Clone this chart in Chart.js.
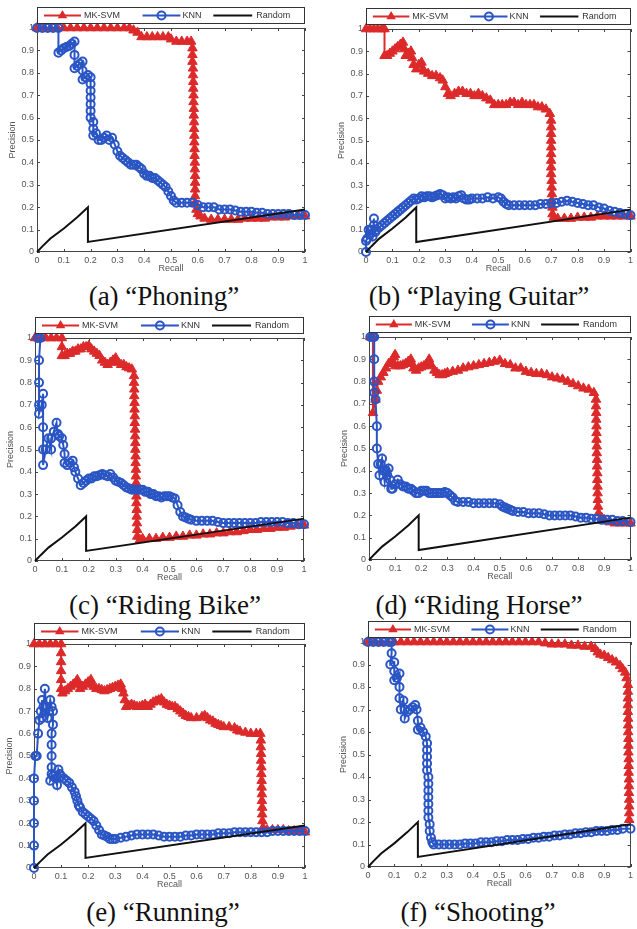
<!DOCTYPE html>
<html>
<head>
<meta charset="utf-8">
<script src="https://cdn.jsdelivr.net/npm/chart.js@4.4.1/dist/chart.umd.min.js"></script>
<style>
  body { margin: 0; background: #fff; }
  #page { position: relative; width: 637px; height: 929px; overflow: hidden; background: #fff; }
  .panel { position: absolute; }
  .caption {
    position: absolute; width: 300px; text-align: center; white-space: nowrap;
    font-family: "Liberation Serif", "DejaVu Serif", serif; font-size: 27px; line-height: 1; color: #111;
  }
</style>
</head>
<body>
<div id="page"></div>
<script>
// Data: [recall, precision]
const seriesNames = ["MK-SVM", "KNN", "Random"];
const tickValues = [0, 0.1, 0.2, 0.3, 0.4, 0.5, 0.6, 0.7, 0.8, 0.9, 1];
const tickLabels = ["0", "0.1", "0.2", "0.3", "0.4", "0.5", "0.6", "0.7", "0.8", "0.9", "1"];
const captions = ["(a) “Phoning”", "(b) “Playing Guitar”", "(c) “Riding Bike”",
  "(d) “Riding Horse”", "(e) “Running”", "(f) “Shooting”"];

const randomCurve = [[0,0],[0.02,0.025],[0.05,0.06],[0.1,0.105],[0.15,0.155],[0.19,0.2],[0.19,0.045],[1,0.19]];

const phoningSvm = [[0,1],[0.025,1],[0.05,1],[0.075,1],[0.1,1],[0.125,1],[0.15,1],[0.175,1],[0.2,1],[0.225,1],[0.25,1],[0.275,1],[0.3,1],[0.325,1],[0.345,1],[0.36,0.99],[0.375,0.98],[0.39,0.96],[0.41,0.96],[0.43,0.96],[0.45,0.96],[0.47,0.96],[0.49,0.96],[0.5,0.95],[0.52,0.94],[0.54,0.94],[0.56,0.94],[0.575,0.94],
  [0.58,0.91],[0.58,0.88],[0.58,0.85],[0.582,0.82],[0.582,0.79],[0.583,0.76],[0.583,0.73],[0.584,0.7],[0.584,0.67],[0.585,0.64],[0.585,0.61],[0.586,0.58],[0.586,0.55],[0.587,0.52],[0.587,0.49],[0.588,0.46],[0.588,0.43],[0.589,0.4],[0.589,0.37],[0.59,0.34],[0.59,0.31],[0.59,0.28],[0.59,0.25],[0.59,0.22],[0.595,0.19],[0.6,0.17],
  [0.61,0.16],[0.625,0.15],[0.65,0.145],[0.675,0.145],[0.7,0.145],[0.725,0.145],[0.75,0.145],[0.775,0.15],[0.8,0.15],[0.825,0.15],[0.85,0.15],[0.875,0.155],[0.9,0.155],[0.925,0.155],[0.95,0.16],[0.975,0.16],[1,0.16]];
const phoningKnn = [[0,1],[0.02,1],[0.04,1],[0.06,1],[0.08,1],[0.08,0.89],[0.09,0.9],[0.1,0.91],[0.11,0.915],[0.12,0.92],[0.13,0.93],[0.14,0.94],[0.14,0.88],[0.14,0.82],[0.15,0.83],[0.16,0.84],[0.17,0.85],[0.17,0.81],[0.17,0.77],[0.18,0.78],[0.19,0.79],[0.2,0.78],[0.2,0.75],[0.2,0.72],[0.2,0.69],[0.2,0.66],[0.2,0.63],[0.2,0.6],[0.21,0.58],[0.21,0.55],[0.21,0.52],[0.22,0.53],[0.23,0.5],[0.24,0.5],[0.25,0.51],[0.26,0.52],[0.27,0.5],[0.28,0.51],[0.29,0.48],[0.3,0.45],[0.31,0.43],[0.32,0.42],[0.33,0.41],[0.34,0.4],[0.35,0.39],[0.36,0.39],[0.37,0.39],[0.38,0.38],[0.39,0.37],[0.4,0.35],[0.41,0.34],[0.42,0.34],[0.43,0.33],[0.44,0.33],[0.45,0.32],[0.46,0.31],[0.47,0.3],[0.48,0.29],[0.49,0.27],[0.5,0.25],[0.51,0.23],[0.52,0.22],[0.54,0.22],[0.56,0.22],[0.58,0.22],[0.6,0.21],[0.62,0.2],[0.64,0.2],[0.66,0.2],[0.68,0.19],[0.7,0.19],[0.72,0.19],[0.74,0.185],[0.76,0.18],[0.78,0.18],[0.8,0.18],[0.82,0.175],[0.84,0.175],[0.86,0.17],[0.88,0.17],[0.9,0.17],[0.92,0.17],[0.94,0.17],[0.96,0.165],[0.98,0.165],[1,0.165]];

const guitarSvm = [[0,1],[0.015,1],[0.03,1],[0.045,1],[0.06,1],[0.07,1],[0.07,0.88],[0.08,0.88],[0.09,0.89],[0.1,0.9],[0.11,0.91],[0.12,0.92],[0.13,0.93],[0.14,0.94],[0.145,0.91],[0.15,0.88],[0.16,0.89],[0.17,0.9],[0.175,0.87],[0.18,0.84],[0.19,0.82],[0.2,0.84],[0.21,0.85],[0.215,0.82],[0.22,0.81],[0.235,0.8],[0.25,0.79],[0.265,0.79],[0.28,0.78],[0.29,0.77],[0.3,0.74],[0.31,0.71],[0.32,0.7],[0.335,0.71],[0.35,0.72],[0.365,0.72],[0.38,0.71],[0.395,0.71],[0.41,0.7],[0.425,0.71],[0.44,0.7],[0.455,0.69],[0.47,0.68],[0.485,0.66],[0.5,0.66],[0.515,0.66],[0.53,0.66],[0.545,0.67],[0.56,0.67],[0.575,0.66],[0.59,0.67],[0.605,0.66],[0.62,0.66],[0.635,0.66],[0.65,0.65],[0.665,0.65],[0.68,0.64],[0.695,0.62],
  [0.7,0.59],[0.7,0.56],[0.7,0.53],[0.7,0.5],[0.7,0.47],[0.7,0.44],[0.7,0.41],[0.7,0.38],[0.7,0.35],[0.702,0.32],[0.702,0.29],[0.703,0.26],[0.703,0.23],[0.705,0.2],[0.705,0.17],
  [0.71,0.155],[0.725,0.15],[0.75,0.15],[0.775,0.15],[0.8,0.155],[0.825,0.155],[0.85,0.155],[0.875,0.16],[0.9,0.16],[0.925,0.16],[0.95,0.16],[0.975,0.16],[1,0.16]];
const guitarKnn = [[0,0],[0,0.05],[0.005,0.06],[0.01,0.1],[0.015,0.08],[0.02,0.1],[0.025,0.07],[0.03,0.15],[0.03,0.12],[0.035,0.09],[0.04,0.1],[0.05,0.11],[0.06,0.12],[0.07,0.13],[0.08,0.14],[0.09,0.15],[0.1,0.16],[0.11,0.17],[0.12,0.18],[0.13,0.19],[0.14,0.2],[0.15,0.21],[0.16,0.22],[0.17,0.23],[0.18,0.24],[0.19,0.235],[0.2,0.24],[0.21,0.25],[0.22,0.245],[0.23,0.25],[0.24,0.25],[0.25,0.245],[0.26,0.25],[0.27,0.255],[0.28,0.26],[0.29,0.255],[0.3,0.24],[0.31,0.245],[0.32,0.24],[0.33,0.245],[0.34,0.24],[0.35,0.25],[0.36,0.255],[0.37,0.24],[0.38,0.235],[0.39,0.235],[0.4,0.24],[0.42,0.24],[0.44,0.24],[0.46,0.245],[0.48,0.24],[0.5,0.245],[0.51,0.24],[0.52,0.225],[0.53,0.215],[0.54,0.21],[0.56,0.21],[0.58,0.21],[0.6,0.21],[0.62,0.21],[0.64,0.21],[0.66,0.215],[0.68,0.215],[0.7,0.22],[0.72,0.22],[0.74,0.225],[0.76,0.23],[0.78,0.225],[0.8,0.22],[0.82,0.215],[0.84,0.21],[0.86,0.21],[0.88,0.2],[0.9,0.195],[0.92,0.185],[0.94,0.18],[0.96,0.175],[0.98,0.17],[1,0.165]];

const bikeSvm = [[0,1],[0.02,1],[0.04,1],[0.06,1],[0.08,1],[0.1,1],[0.1,0.96],[0.1,0.92],[0.11,0.92],[0.12,0.93],[0.13,0.93],[0.14,0.94],[0.15,0.94],[0.16,0.95],[0.17,0.95],[0.18,0.96],[0.19,0.96],[0.2,0.965],[0.21,0.95],[0.22,0.94],[0.23,0.93],[0.24,0.92],[0.25,0.9],[0.26,0.89],[0.27,0.88],[0.28,0.89],[0.29,0.9],[0.3,0.91],[0.31,0.89],[0.32,0.88],[0.33,0.88],[0.34,0.87],[0.35,0.865],[0.36,0.86],
  [0.368,0.83],[0.368,0.8],[0.369,0.77],[0.369,0.74],[0.37,0.71],[0.37,0.68],[0.371,0.65],[0.371,0.62],[0.372,0.59],[0.372,0.56],[0.373,0.53],[0.373,0.5],[0.374,0.47],[0.374,0.44],[0.375,0.41],[0.375,0.38],[0.376,0.35],[0.376,0.32],[0.377,0.29],[0.377,0.26],[0.378,0.23],[0.378,0.2],[0.379,0.17],[0.38,0.14],[0.38,0.11],
  [0.39,0.095],[0.4,0.1],[0.425,0.1],[0.45,0.1],[0.475,0.105],[0.5,0.105],[0.525,0.11],[0.55,0.11],[0.575,0.115],[0.6,0.115],[0.625,0.12],[0.65,0.12],[0.675,0.125],[0.7,0.125],[0.725,0.13],[0.75,0.13],[0.775,0.135],[0.8,0.14],[0.825,0.14],[0.85,0.145],[0.875,0.145],[0.9,0.15],[0.925,0.15],[0.95,0.155],[0.975,0.16],[1,0.16]];
const bikeKnn = [[0.01,1],[0.02,1],[0.015,0.9],[0.015,0.8],[0.015,0.7],[0.015,0.66],[0.025,0.7],[0.03,0.75],[0.03,0.6],[0.03,0.5],[0.03,0.43],[0.04,0.5],[0.05,0.55],[0.06,0.5],[0.06,0.55],[0.07,0.58],[0.08,0.62],[0.085,0.57],[0.09,0.56],[0.1,0.55],[0.105,0.52],[0.11,0.48],[0.11,0.44],[0.12,0.43],[0.13,0.44],[0.14,0.45],[0.145,0.42],[0.15,0.4],[0.16,0.37],[0.17,0.34],[0.18,0.35],[0.19,0.36],[0.2,0.37],[0.21,0.37],[0.22,0.38],[0.23,0.38],[0.24,0.385],[0.25,0.39],[0.26,0.385],[0.27,0.38],[0.28,0.39],[0.29,0.375],[0.3,0.36],[0.31,0.355],[0.32,0.35],[0.33,0.34],[0.34,0.33],[0.35,0.325],[0.36,0.32],[0.37,0.32],[0.38,0.32],[0.39,0.32],[0.4,0.32],[0.41,0.31],[0.42,0.31],[0.43,0.3],[0.44,0.3],[0.45,0.29],[0.46,0.29],[0.47,0.285],[0.48,0.29],[0.49,0.29],[0.5,0.29],[0.51,0.285],[0.52,0.28],[0.53,0.25],[0.54,0.22],[0.55,0.2],[0.56,0.195],[0.57,0.19],[0.58,0.185],[0.6,0.18],[0.62,0.18],[0.64,0.18],[0.66,0.18],[0.68,0.175],[0.7,0.17],[0.72,0.17],[0.74,0.17],[0.76,0.17],[0.78,0.17],[0.8,0.17],[0.82,0.17],[0.84,0.175],[0.86,0.175],[0.88,0.175],[0.9,0.175],[0.92,0.175],[0.94,0.17],[0.96,0.17],[0.98,0.165],[1,0.165]];

const horseSvm = [[0.005,1],[0.015,1],[0.015,0.66],[0.025,0.72],[0.03,0.76],[0.035,0.8],[0.045,0.82],[0.055,0.84],[0.065,0.86],[0.075,0.88],[0.085,0.89],[0.095,0.91],[0.1,0.92],[0.1,0.87],[0.11,0.87],[0.12,0.87],[0.13,0.875],[0.14,0.88],[0.15,0.89],[0.16,0.9],[0.165,0.88],[0.17,0.86],[0.18,0.85],[0.19,0.86],[0.2,0.865],[0.21,0.87],[0.22,0.88],[0.23,0.9],[0.24,0.87],[0.25,0.85],[0.26,0.84],[0.27,0.83],[0.28,0.83],[0.29,0.835],[0.3,0.84],[0.32,0.845],[0.34,0.85],[0.36,0.86],[0.38,0.865],[0.4,0.87],[0.42,0.875],[0.44,0.88],[0.46,0.885],[0.48,0.89],[0.5,0.895],[0.52,0.88],[0.54,0.875],[0.56,0.86],[0.58,0.86],[0.6,0.845],[0.62,0.84],[0.64,0.835],[0.66,0.835],[0.68,0.83],[0.7,0.82],[0.72,0.815],[0.74,0.81],[0.76,0.8],[0.78,0.79],[0.8,0.78],[0.82,0.77],[0.84,0.765],[0.86,0.75],
  [0.868,0.72],[0.868,0.69],[0.869,0.66],[0.869,0.63],[0.87,0.6],[0.87,0.57],[0.87,0.54],[0.871,0.51],[0.871,0.48],[0.872,0.45],[0.872,0.42],[0.873,0.39],[0.873,0.36],[0.874,0.33],[0.874,0.3],[0.875,0.27],[0.876,0.24],[0.878,0.21],
  [0.89,0.19],[0.9,0.18],[0.92,0.17],[0.94,0.165],[0.96,0.165],[0.98,0.165],[1,0.165]];
const horseKnn = [[0.005,1],[0.015,1],[0.02,1],[0.02,0.9],[0.02,0.8],[0.02,0.75],[0.025,0.72],[0.03,0.6],[0.03,0.5],[0.035,0.43],[0.04,0.38],[0.045,0.43],[0.05,0.455],[0.055,0.4],[0.06,0.35],[0.065,0.4],[0.07,0.38],[0.075,0.41],[0.08,0.36],[0.085,0.32],[0.09,0.32],[0.1,0.34],[0.11,0.36],[0.12,0.34],[0.13,0.33],[0.14,0.33],[0.15,0.32],[0.16,0.32],[0.17,0.31],[0.18,0.3],[0.19,0.3],[0.2,0.31],[0.21,0.31],[0.22,0.31],[0.23,0.3],[0.24,0.3],[0.25,0.3],[0.26,0.3],[0.27,0.3],[0.28,0.3],[0.29,0.305],[0.3,0.3],[0.31,0.29],[0.32,0.28],[0.33,0.265],[0.34,0.26],[0.36,0.26],[0.38,0.26],[0.4,0.255],[0.42,0.255],[0.44,0.255],[0.46,0.255],[0.48,0.255],[0.5,0.25],[0.51,0.24],[0.52,0.235],[0.53,0.23],[0.54,0.225],[0.55,0.22],[0.57,0.215],[0.59,0.215],[0.61,0.21],[0.63,0.21],[0.65,0.21],[0.67,0.205],[0.69,0.2],[0.71,0.2],[0.73,0.2],[0.75,0.2],[0.77,0.2],[0.79,0.195],[0.81,0.19],[0.83,0.19],[0.85,0.185],[0.87,0.185],[0.89,0.18],[0.91,0.18],[0.93,0.18],[0.95,0.175],[0.97,0.175],[1,0.17]];

const runningSvm = [[0,1],[0.02,1],[0.04,1],[0.06,1],[0.08,1],[0.1,1],[0.1,0.96],[0.1,0.92],[0.1,0.88],[0.1,0.84],[0.1,0.8],[0.105,0.78],[0.115,0.79],[0.125,0.8],[0.135,0.81],[0.145,0.82],[0.155,0.83],[0.16,0.84],[0.165,0.82],[0.17,0.8],[0.18,0.81],[0.19,0.82],[0.2,0.83],[0.21,0.84],[0.215,0.82],[0.22,0.81],[0.23,0.8],[0.24,0.8],[0.25,0.795],[0.26,0.79],[0.27,0.795],[0.28,0.8],[0.29,0.805],[0.3,0.81],[0.31,0.815],[0.32,0.82],[0.325,0.8],[0.33,0.78],[0.335,0.75],[0.34,0.72],[0.35,0.725],[0.36,0.73],[0.37,0.725],[0.38,0.72],[0.39,0.72],[0.4,0.725],[0.41,0.73],[0.42,0.72],[0.43,0.73],[0.44,0.74],[0.45,0.745],[0.46,0.75],[0.47,0.755],[0.48,0.74],[0.49,0.73],[0.5,0.725],[0.51,0.72],[0.52,0.72],[0.53,0.71],[0.54,0.7],[0.55,0.69],[0.56,0.68],[0.57,0.675],[0.58,0.67],[0.6,0.67],[0.62,0.675],[0.63,0.68],[0.64,0.67],[0.65,0.66],[0.66,0.655],[0.67,0.645],[0.68,0.64],[0.69,0.635],[0.7,0.63],[0.72,0.63],[0.74,0.625],[0.75,0.615],[0.76,0.61],[0.78,0.605],[0.8,0.6],[0.82,0.6],[0.835,0.6],
  [0.837,0.57],[0.837,0.54],[0.838,0.51],[0.838,0.48],[0.839,0.45],[0.839,0.42],[0.84,0.39],[0.84,0.36],[0.841,0.33],[0.841,0.3],[0.842,0.27],[0.842,0.24],[0.843,0.21],[0.845,0.18],
  [0.86,0.17],[0.88,0.17],[0.9,0.17],[0.92,0.17],[0.94,0.165],[0.96,0.165],[0.98,0.165],[1,0.16]];
const runningKnn = [[0,0],[0,0.1],[0,0.2],[0,0.3],[0,0.4],[0.005,0.5],[0.01,0.5],[0.015,0.6],[0.02,0.66],[0.025,0.7],[0.03,0.75],[0.03,0.67],[0.035,0.72],[0.04,0.8],[0.045,0.72],[0.05,0.67],[0.055,0.7],[0.06,0.75],[0.065,0.72],[0.07,0.7],[0.07,0.64],[0.065,0.6],[0.065,0.55],[0.065,0.5],[0.065,0.45],[0.065,0.42],[0.06,0.39],[0.07,0.41],[0.08,0.4],[0.085,0.37],[0.09,0.44],[0.095,0.42],[0.1,0.41],[0.11,0.4],[0.12,0.39],[0.13,0.38],[0.14,0.36],[0.15,0.34],[0.155,0.32],[0.16,0.3],[0.165,0.28],[0.17,0.27],[0.18,0.25],[0.19,0.24],[0.2,0.23],[0.21,0.22],[0.22,0.21],[0.23,0.19],[0.24,0.17],[0.25,0.15],[0.26,0.145],[0.27,0.14],[0.28,0.13],[0.29,0.13],[0.3,0.13],[0.32,0.135],[0.34,0.14],[0.36,0.145],[0.38,0.15],[0.4,0.15],[0.42,0.15],[0.44,0.15],[0.46,0.145],[0.48,0.14],[0.5,0.14],[0.52,0.14],[0.54,0.14],[0.56,0.145],[0.58,0.145],[0.6,0.15],[0.62,0.15],[0.64,0.15],[0.66,0.15],[0.68,0.155],[0.7,0.155],[0.72,0.155],[0.74,0.16],[0.76,0.16],[0.78,0.16],[0.8,0.16],[0.82,0.16],[0.84,0.16],[0.86,0.16],[0.88,0.165],[0.9,0.165],[0.92,0.165],[0.94,0.165],[0.96,0.165],[0.98,0.165],[1,0.165]];

const shootingSvm = [[0,1],[0.025,1],[0.05,1],[0.075,1],[0.1,1],[0.125,1],[0.15,1],[0.175,1],[0.2,1],[0.225,1],[0.25,1],[0.275,1],[0.3,1],[0.325,1],[0.35,1],[0.375,1],[0.4,1],[0.425,1],[0.45,1],[0.475,1],[0.5,1],[0.525,1],[0.55,1],[0.575,1],[0.6,1],[0.625,1],[0.65,1],[0.675,0.995],[0.7,0.99],[0.725,0.99],[0.75,0.99],[0.775,0.985],[0.8,0.985],[0.825,0.98],[0.85,0.98],[0.865,0.97],[0.875,0.955],[0.885,0.945],[0.9,0.94],[0.915,0.93],[0.93,0.92],[0.945,0.91],[0.96,0.895],[0.97,0.88],[0.98,0.865],[0.985,0.84],
  [0.99,0.81],[0.99,0.78],[0.99,0.75],[0.99,0.72],[0.99,0.69],[0.991,0.66],[0.991,0.63],[0.991,0.6],[0.992,0.57],[0.992,0.54],[0.992,0.51],[0.993,0.48],[0.993,0.45],[0.993,0.42],[0.994,0.39],[0.994,0.36],[0.994,0.33],[0.995,0.3],[0.995,0.27],[0.995,0.24],[0.995,0.21]];
const shootingKnn = [[0,1],[0.02,1],[0.04,1],[0.06,1],[0.08,1],[0.09,1],[0.09,0.95],[0.085,0.9],[0.1,0.91],[0.1,0.87],[0.1,0.83],[0.11,0.84],[0.12,0.86],[0.12,0.8],[0.12,0.75],[0.125,0.7],[0.135,0.74],[0.14,0.7],[0.14,0.66],[0.15,0.69],[0.16,0.7],[0.17,0.71],[0.18,0.72],[0.185,0.7],[0.19,0.65],[0.19,0.61],[0.2,0.62],[0.21,0.6],[0.22,0.58],[0.225,0.55],[0.225,0.52],[0.225,0.49],[0.225,0.46],[0.225,0.43],[0.23,0.4],[0.23,0.37],[0.23,0.34],[0.23,0.31],[0.23,0.28],[0.23,0.25],[0.23,0.22],[0.235,0.19],[0.235,0.16],[0.24,0.13],[0.245,0.11],[0.25,0.1],[0.27,0.1],[0.29,0.1],[0.31,0.1],[0.33,0.1],[0.35,0.1],[0.37,0.105],[0.39,0.105],[0.41,0.105],[0.43,0.11],[0.45,0.11],[0.47,0.11],[0.49,0.115],[0.51,0.115],[0.53,0.12],[0.55,0.12],[0.57,0.12],[0.59,0.125],[0.61,0.125],[0.63,0.13],[0.65,0.13],[0.67,0.135],[0.69,0.135],[0.71,0.14],[0.73,0.14],[0.75,0.145],[0.77,0.145],[0.79,0.15],[0.81,0.15],[0.83,0.155],[0.85,0.155],[0.87,0.16],[0.89,0.16],[0.91,0.16],[0.93,0.165],[0.95,0.165],[0.97,0.17],[1,0.17]];

// Posisi tiap panel: area plot [kiri, kanan, atas, bawah], tepi kanan kanvas, posisi caption
const panels = [
  { svm: phoningSvm, knn: phoningKnn, area: [37, 305, 28, 252], edge: 318, capX: 164, capY: 283 },
  { svm: guitarSvm, knn: guitarKnn, area: [366, 635, 29, 252], edge: 637, capX: 479, capY: 283 },
  { svm: bikeSvm, knn: bikeKnn, area: [35, 304, 338, 561], edge: 318, capX: 165, capY: 592 },
  { svm: horseSvm, knn: horseKnn, area: [369, 636, 337, 560], edge: 637, capX: 479, capY: 592 },
  { svm: runningSvm, knn: runningKnn, area: [34, 305, 644, 868], edge: 318, capX: 163, capY: 899 },
  { svm: shootingSvm, knn: shootingKnn, area: [368, 636, 642, 867], edge: 637, capX: 478, capY: 899 },
];

const RED = "#dc2a2a";
const BLUE = "#2a55c4";
const AXIS_FONT = { family: "'Liberation Sans', Arial, sans-serif", size: 9 };

function toPoints(pairs) {
  return pairs.map((p) => ({ x: p[0], y: p[1] }));
}

//! Frame + tick ke dalam (gaya MATLAB)
const framePlugin = {
  id: "frame",
  beforeDatasetsDraw(chart) {
    const { ctx, chartArea: a, scales } = chart;
    ctx.save();
    ctx.strokeStyle = "#444";
    ctx.lineWidth = 1;
    ctx.strokeRect(Math.round(a.left) + 0.5, Math.round(a.top) + 0.5, Math.round(a.width) - 1, Math.round(a.height) - 1);
    ctx.beginPath();
    scales.x.ticks.forEach((t) => {
      const px = Math.round(scales.x.getPixelForValue(t.value)) + 0.5;
      ctx.moveTo(px, a.bottom); ctx.lineTo(px, a.bottom - 3);
      ctx.moveTo(px, a.top); ctx.lineTo(px, a.top + 3);
    });
    scales.y.ticks.forEach((t) => {
      const py = Math.round(scales.y.getPixelForValue(t.value)) + 0.5;
      ctx.moveTo(a.left, py); ctx.lineTo(a.left + 3, py);
      ctx.moveTo(a.right, py); ctx.lineTo(a.right - 3, py);
    });
    ctx.stroke();
    ctx.restore();
  },
};

//! Legend kotak di atas plot
const legendPlugin = {
  id: "boxLegend",
  afterDraw(chart) {
    const { ctx, chartArea: a } = chart;
    const top = Math.round(a.top) - 21;
    const h = 17;
    const w = a.width;
    const cy = top + h / 2;
    const slots = [[0.026, 0.164, 0.175], [0.394, 0.535, 0.543], [0.658, 0.803, 0.818]];
    ctx.save();
    ctx.fillStyle = "#fff";
    ctx.fillRect(a.left, top, w, h);
    ctx.strokeStyle = "#333";
    ctx.lineWidth = 1;
    ctx.strokeRect(Math.round(a.left) + 0.5, top + 0.5, Math.round(w) - 1, h - 1);
    chart.data.datasets.forEach((ds, i) => {
      const [x0, x1, tx] = slots[i];
      const mx = a.left + ((x0 + x1) / 2) * w;
      ctx.strokeStyle = ds.borderColor;
      ctx.lineWidth = 2;
      ctx.beginPath();
      ctx.moveTo(a.left + x0 * w, cy);
      ctx.lineTo(a.left + x1 * w, cy);
      ctx.stroke();
      if (ds.pointStyle === "triangle") {
        const r = ds.pointRadius;
        ctx.fillStyle = ds.borderColor;
        ctx.beginPath();
        ctx.moveTo(mx, cy - r);
        ctx.lineTo(mx + r * 0.866, cy + r * 0.5);
        ctx.lineTo(mx - r * 0.866, cy + r * 0.5);
        ctx.closePath();
        ctx.fill();
      } else if (ds.pointStyle === "circle" && ds.pointRadius > 0) {
        ctx.lineWidth = ds.pointBorderWidth;
        ctx.beginPath();
        ctx.arc(mx, cy, ds.pointRadius, 0, Math.PI * 2);
        ctx.stroke();
      }
      ctx.fillStyle = "#333";
      ctx.font = "9px 'Liberation Sans', Arial, sans-serif";
      ctx.textBaseline = "middle";
      ctx.fillText(ds.label, a.left + tx * w, cy + 0.5);
    });
    ctx.restore();
  },
};

function makePanel(p, idx) {
  const axisW = 34;
  const legendH = 22;
  const xAxisH = 26;
  const [L, R, T, B] = p.area;
  const left = L - axisW;
  const top = T - legendH;
  const w = p.edge - left;
  const h = legendH + (B - T) + xAxisH;

  const div = document.createElement("div");
  div.className = "panel";
  div.style.left = left + "px";
  div.style.top = top + "px";
  const canvas = document.createElement("canvas");
  canvas.width = w;
  canvas.height = h;
  canvas.style.width = w + "px";
  canvas.style.height = h + "px";
  div.appendChild(canvas);
  document.getElementById("page").appendChild(div);

  const cap = document.createElement("div");
  cap.className = "caption";
  cap.textContent = captions[idx];
  cap.style.left = p.capX - 150 + "px";
  cap.style.top = p.capY + "px";
  document.getElementById("page").appendChild(cap);

  new Chart(canvas.getContext("2d"), {
    type: "scatter",
    data: {
      datasets: [
        {
          label: seriesNames[0],
          data: toPoints(p.svm),
          showLine: true,
          borderColor: RED,
          backgroundColor: RED,
          borderWidth: 2,
          pointStyle: "triangle",
          pointRadius: 5.5,
          pointBorderWidth: 1,
          pointBackgroundColor: RED,
          pointBorderColor: RED,
          order: 3,
          clip: false,
        },
        {
          label: seriesNames[1],
          data: toPoints(p.knn),
          showLine: true,
          borderColor: BLUE,
          backgroundColor: BLUE,
          borderWidth: 2,
          pointStyle: "circle",
          pointRadius: 4,
          pointBorderWidth: 2,
          pointBackgroundColor: "rgba(0,0,0,0)",
          pointBorderColor: BLUE,
          order: 2,
          clip: false,
        },
        {
          label: seriesNames[2],
          data: toPoints(randomCurve),
          showLine: true,
          borderColor: "#111",
          backgroundColor: "#111",
          borderWidth: 2,
          pointRadius: 0,
          order: 1,
          clip: false,
        },
      ],
    },
    options: {
      responsive: false,
      animation: false,
      events: [],
      layout: { padding: { top: legendH, right: p.edge - R, left: 0, bottom: 0 } },
      elements: { line: { tension: 0 } },
      plugins: { legend: { display: false }, tooltip: { enabled: false } },
      scales: {
        x: {
          type: "linear",
          min: 0,
          max: 1,
          grid: { display: false, drawTicks: false },
          border: { display: false },
          afterBuildTicks: (s) => { s.ticks = tickValues.map((v) => ({ value: v })); },
          afterFit: (s) => { s.height = xAxisH; s.paddingLeft = 0; s.paddingRight = 0; },
          ticks: {
            autoSkip: false, maxRotation: 0, padding: 3, color: "#555", font: AXIS_FONT,
            callback: (v, i) => tickLabels[i],
          },
          title: { display: true, text: "Recall", color: "#555", font: AXIS_FONT, padding: { top: 0, bottom: 4 } },
        },
        y: {
          type: "linear",
          min: 0,
          max: 1,
          grid: { display: false, drawTicks: false },
          border: { display: false },
          afterBuildTicks: (s) => { s.ticks = tickValues.map((v) => ({ value: v })); },
          afterFit: (s) => { s.width = axisW; s.paddingTop = 0; s.paddingBottom = 0; },
          ticks: {
            autoSkip: false, padding: 3, color: "#555", font: AXIS_FONT,
            callback: (v, i) => tickLabels[i],
          },
          title: { display: true, text: "Precision", color: "#555", font: AXIS_FONT, padding: { top: 4, bottom: 0 } },
        },
      },
    },
    plugins: [framePlugin, legendPlugin],
  });
}

panels.forEach(makePanel);
</script>
</body>
</html>
